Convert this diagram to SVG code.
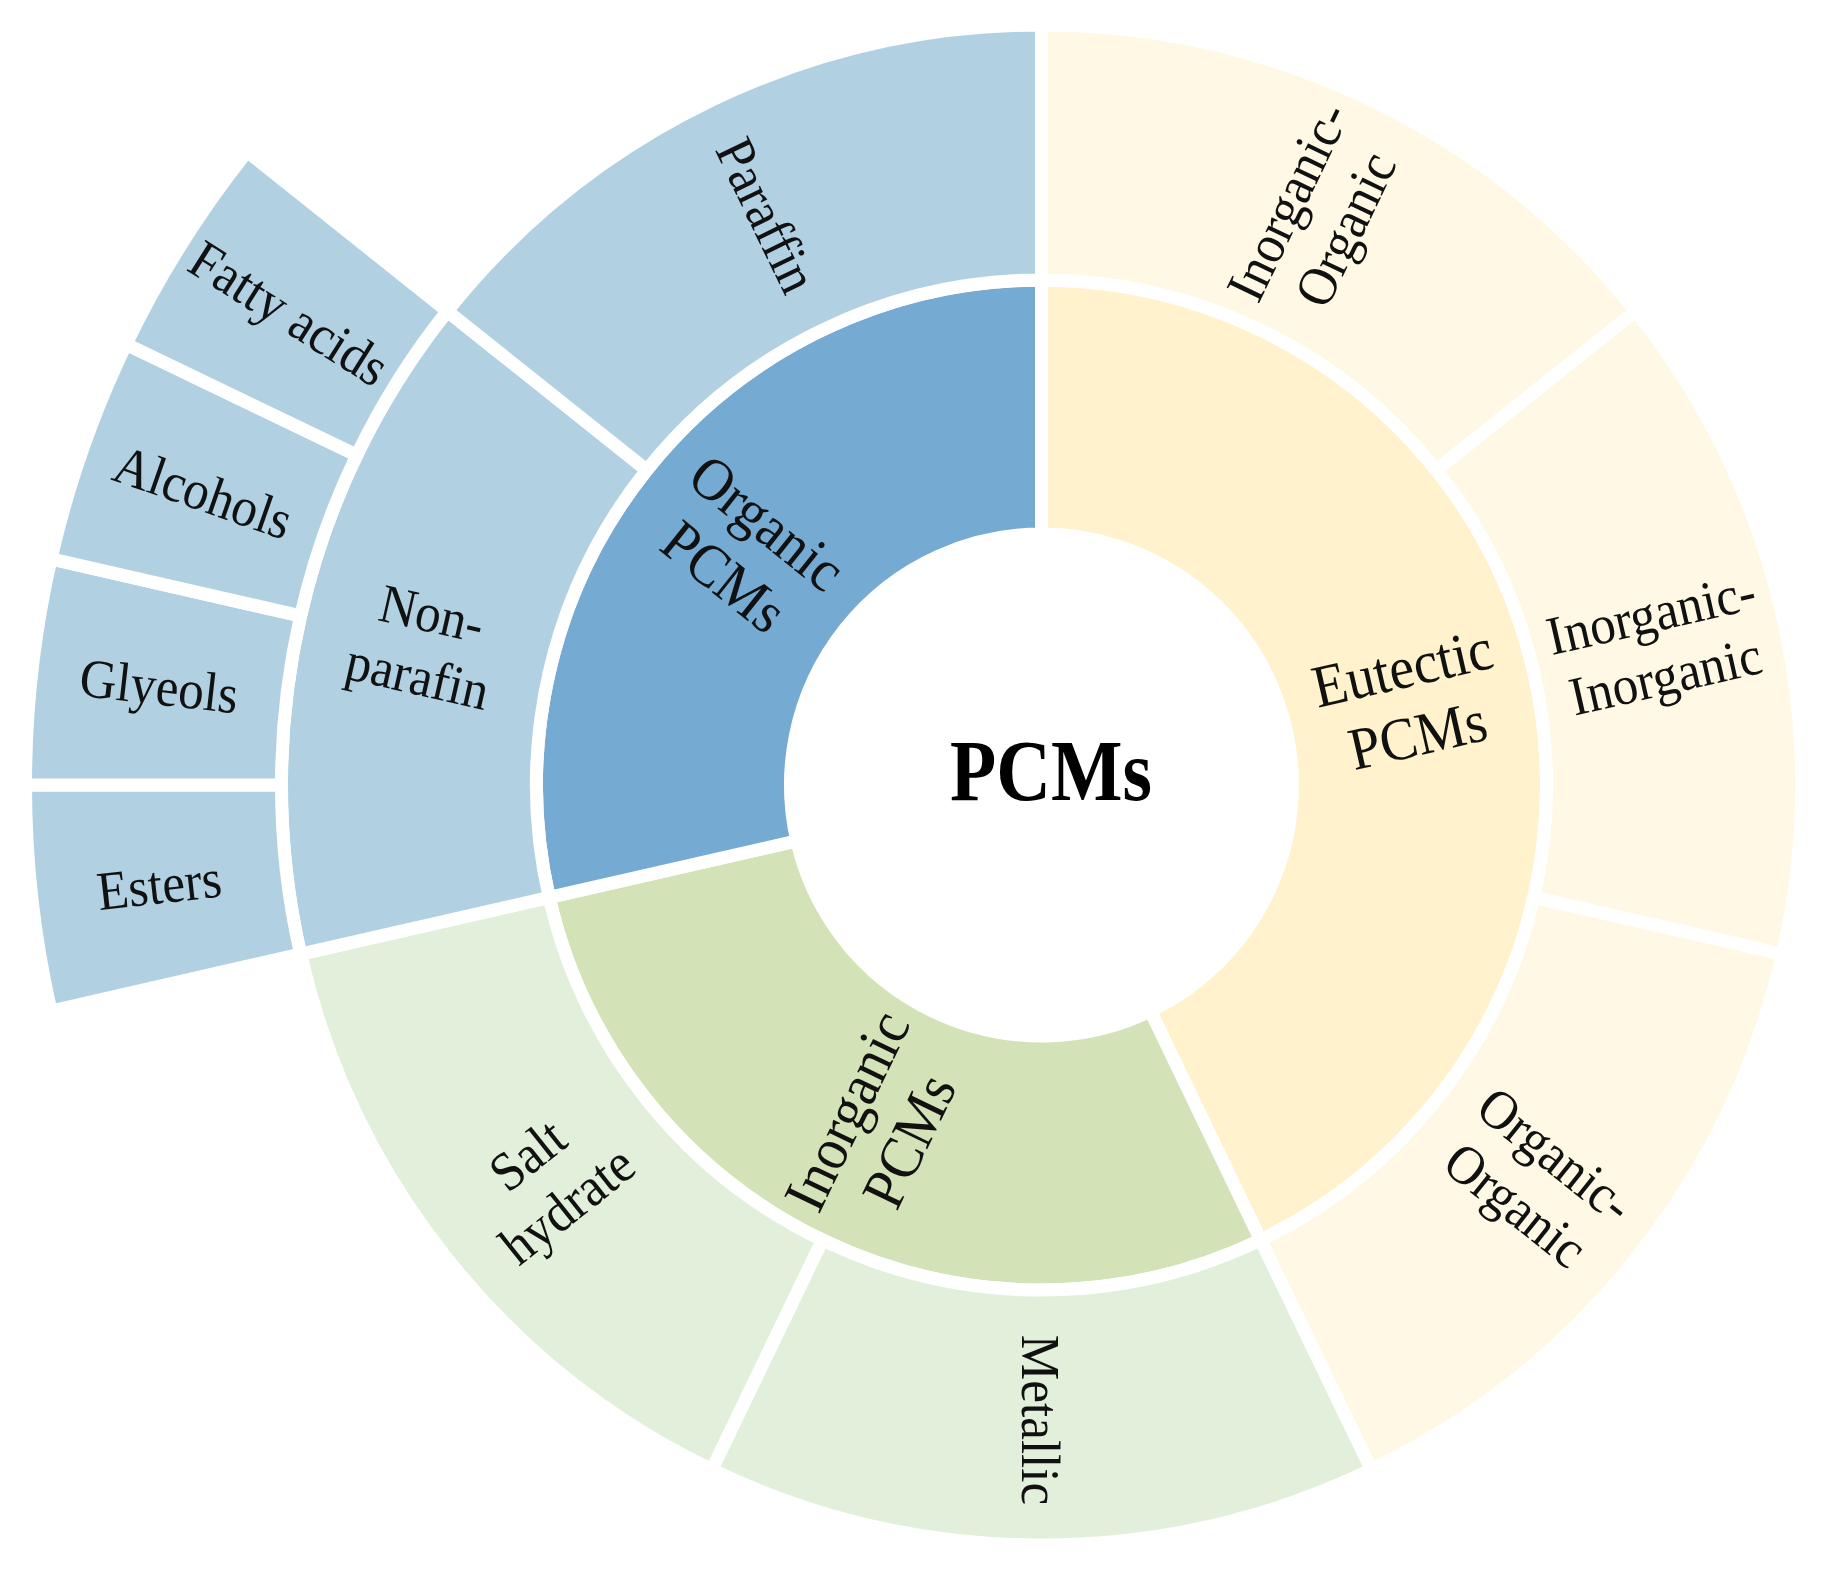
<svg xmlns="http://www.w3.org/2000/svg" width="1832" height="1570" viewBox="0 0 1832 1570">
<style>
.seg{stroke:#ffffff;stroke-width:13;stroke-linejoin:miter}
.o1{fill:#75AAD2}.o2{fill:#B1D1E3}
.e1{fill:#FFF2CD}.e2{fill:#FFF8E5}
.i1{fill:#D4E2B8}.i2{fill:#E2EFDA}
.lbl{font-family:"Liberation Serif","Times New Roman",serif;font-size:55px;fill:#111111;text-anchor:middle}
.lbl1{font-family:"Liberation Serif","Times New Roman",serif;font-size:60px;fill:#111111;text-anchor:middle}
.ctr{font-family:"Liberation Serif","Times New Roman",serif;font-size:86px;font-weight:bold;fill:#000000;text-anchor:middle}
</style>
<rect width="1832" height="1570" fill="#ffffff"/>

<g id="ring1">
<g id="eutectic-pcms">
<path class="seg e1" d="M1041.5,280 A505,505 0 0 1 1260.6,1240 L1150.4,1011.1 A251,251 0 0 0 1041.5,534 Z"/>
<text class="lbl1" transform="translate(1410,701) rotate(-12.857) scale(0.93,1)"><tspan x="0" y="-14">Eutectic</tspan><tspan x="0" y="55">PCMs</tspan></text>
</g>
<g id="inorganic-pcms">
<path class="seg i1" d="M1260.6,1240 A505,505 0 0 1 549.2,897.4 L796.8,840.9 A251,251 0 0 0 1150.4,1011.1 Z"/>
<text class="lbl1" transform="translate(877.5,1125.6) rotate(-64.286) scale(0.93,1)"><tspan x="0" y="-14">Inorganic</tspan><tspan x="0" y="55">PCMs</tspan></text>
</g>
<g id="organic-pcms">
<path class="seg o1" d="M549.2,897.4 A505,505 0 0 1 1041.5,280 L1041.5,534 A251,251 0 0 0 796.8,840.9 Z"/>
<text class="lbl1" transform="translate(746,549.3) rotate(38.571) scale(0.93,1)"><tspan x="0" y="-14">Organic</tspan><tspan x="0" y="55">PCMs</tspan></text>
</g>
</g>

<g id="ring2">
<g id="inorganic-organic">
<path class="seg e2" d="M1041.5,25 A760,760 0 0 1 1635.7,311.1 L1436.3,470.1 A505,505 0 0 0 1041.5,280 Z"/>
<text class="lbl" transform="translate(1315.9,215.1) rotate(-64.286) scale(0.93,1)"><tspan x="0" y="-13">Inorganic-</tspan><tspan x="0" y="51">Organic</tspan></text>
</g>
<g id="inorganic-inorganic">
<path class="seg e2" d="M1635.7,311.1 A760,760 0 0 1 1782.4,954.1 L1533.8,897.4 A505,505 0 0 0 1436.3,470.1 Z"/>
<text class="lbl" transform="translate(1658.1,644.3) rotate(-12.857) scale(0.93,1)"><tspan x="0" y="-13">Inorganic-</tspan><tspan x="0" y="51">Inorganic</tspan></text>
</g>
<g id="organic-organic">
<path class="seg e2" d="M1782.4,954.1 A760,760 0 0 1 1371.3,1469.7 L1260.6,1240 A505,505 0 0 0 1533.8,897.4 Z"/>
<text class="lbl" transform="translate(1536,1179.4) rotate(38.571) scale(0.93,1)"><tspan x="0" y="-13">Organic-</tspan><tspan x="0" y="51">Organic</tspan></text>
</g>
<g id="metallic">
<path class="seg i2" d="M1371.3,1469.7 A760,760 0 0 1 711.7,1469.7 L822.4,1240 A505,505 0 0 0 1260.6,1240 Z"/>
<text class="lbl" transform="translate(1041.5,1420) rotate(90) scale(0.93,1)"><tspan x="0" y="19">Metallic</tspan></text>
</g>
<g id="salt-hydrate">
<path class="seg i2" d="M711.7,1469.7 A760,760 0 0 1 300.6,954.1 L549.2,897.4 A505,505 0 0 0 822.4,1240 Z"/>
<text class="lbl" transform="translate(547,1179.4) rotate(-38.571) scale(0.93,1)"><tspan x="0" y="-13">Salt</tspan><tspan x="0" y="51">hydrate</tspan></text>
</g>
<g id="non-parafin">
<path class="seg o2" d="M300.6,954.1 A760,760 0 0 1 447.3,311.1 L646.7,470.1 A505,505 0 0 0 549.2,897.4 Z"/>
<text class="lbl" transform="translate(424.9,644.3) rotate(12.857) scale(0.93,1)"><tspan x="0" y="-13">Non-</tspan><tspan x="0" y="51">parafin</tspan></text>
</g>
<g id="paraffin">
<path class="seg o2" d="M447.3,311.1 A760,760 0 0 1 1041.5,25 L1041.5,280 A505,505 0 0 0 646.7,470.1 Z"/>
<text class="lbl" transform="translate(767.1,215.1) rotate(64.286) scale(0.93,1)"><tspan x="0" y="19">Paraffin</tspan></text>
</g>
</g>

<g id="ring3">
<g id="esters">
<path class="seg o2" d="M51,1011.1 A1016,1016 0 0 1 25.5,785 L281.5,785 A760,760 0 0 0 300.6,954.1 Z"/>
<text class="lbl" transform="translate(159.1,884.4) rotate(-6.43) scale(0.93,1)"><tspan x="0" y="19">Esters</tspan></text>
</g>
<g id="glyeols">
<path class="seg o2" d="M25.5,785 A1016,1016 0 0 1 51,558.9 L300.6,615.9 A760,760 0 0 0 281.5,785 Z"/>
<text class="lbl" transform="translate(159.1,685.6) rotate(6.43) scale(0.93,1)"><tspan x="0" y="19">Glyeols</tspan></text>
</g>
<g id="alcohols">
<path class="seg o2" d="M51,558.9 A1016,1016 0 0 1 126.1,344.2 L356.8,455.2 A760,760 0 0 0 300.6,615.9 Z"/>
<text class="lbl" transform="translate(203.3,491.7) rotate(19.29) scale(0.93,1)"><tspan x="0" y="19">Alcohols</tspan></text>
</g>
<g id="fatty-acids">
<path class="seg o2" d="M126.1,344.2 A1016,1016 0 0 1 247.2,151.5 L447.3,311.1 A760,760 0 0 0 356.8,455.2 Z"/>
<text class="lbl" transform="translate(289.6,312.6) rotate(32.14) scale(0.93,1)"><tspan x="0" y="19">Fatty acids</tspan></text>
</g>
</g>

<g id="center">
<text class="ctr" x="1051" y="800" textLength="202" lengthAdjust="spacingAndGlyphs">PCMs</text>
</g>
<g id="connectors"></g>
</svg>
